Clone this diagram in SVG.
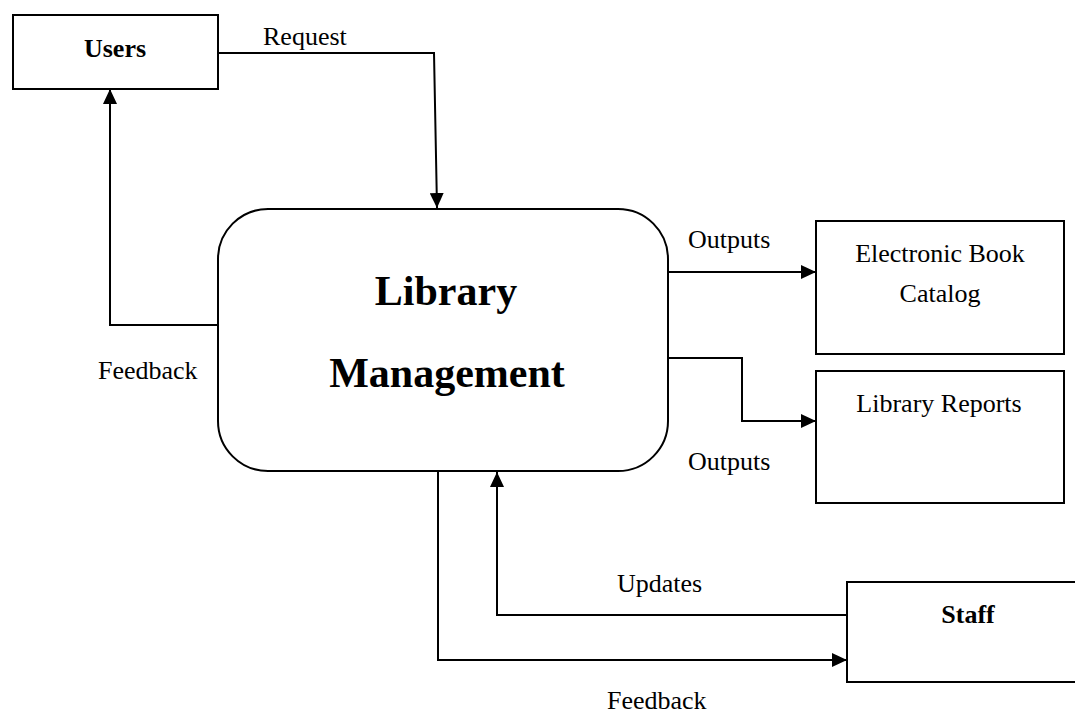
<svg xmlns="http://www.w3.org/2000/svg" width="1075" height="713" viewBox="0 0 1075 713">
<defs>
<style>
.box{fill:#fff;stroke:#000;stroke-width:2}
.ln{fill:none;stroke:#000;stroke-width:2}
.t{font-family:"Liberation Serif","Times New Roman",serif;font-size:26px;fill:#000}
.b{font-weight:bold}
.big{font-family:"Liberation Serif","Times New Roman",serif;font-size:42px;font-weight:bold;fill:#000}
</style>
<marker id="ah" viewBox="0 0 15 14" markerWidth="15" markerHeight="14" refX="15" refY="7" orient="auto" markerUnits="userSpaceOnUse">
<path d="M0,0 L15,7 L0,14 z" fill="#000"/>
</marker>
</defs>
<rect width="1075" height="713" fill="#fff"/>
<g id="connectors">
<path class="ln" d="M218,53 H434 L437,208" marker-end="url(#ah)"/>
<path class="ln" d="M218,325 H110 V89" marker-end="url(#ah)"/>
<path class="ln" d="M668,272 H816" marker-end="url(#ah)"/>
<path class="ln" d="M668,358 H742 V421 H816" marker-end="url(#ah)"/>
<path class="ln" d="M847,615 H497 V472" marker-end="url(#ah)"/>
<path class="ln" d="M438,471 V660 H847" marker-end="url(#ah)"/>
<text class="t" x="98" y="379">Feedback</text>
<text class="t" x="263" y="45">Request</text>
<text class="t" x="688" y="248">Outputs</text>
<text class="t" x="688" y="470">Outputs</text>
<text class="t" x="617" y="592">Updates</text>
<text class="t" x="607" y="709">Feedback</text>
</g>
<g id="users">
<rect class="box" x="13" y="15" width="205" height="74"/>
<text class="t b" x="115" y="57" text-anchor="middle">Users</text>
</g>
<g id="library-management">
<rect class="box" x="218" y="209" width="450" height="262" rx="50" ry="50"/>
<text class="big" x="446" y="305" text-anchor="middle">Library</text>
<text class="big" x="447" y="387" text-anchor="middle">Management</text>
</g>
<g id="ebook-catalog">
<rect class="box" x="816" y="221" width="248" height="133"/>
<text class="t" x="940" y="262" text-anchor="middle">Electronic Book</text>
<text class="t" x="940" y="302" text-anchor="middle">Catalog</text>
</g>
<g id="library-reports">
<rect class="box" x="816" y="371" width="248" height="132"/>
<text class="t" x="939" y="412" text-anchor="middle">Library Reports</text>
</g>
<g id="staff">
<rect class="box" x="847" y="582" width="240" height="100"/>
<text class="t b" x="968" y="623" text-anchor="middle">Staff</text>
</g>
</svg>
